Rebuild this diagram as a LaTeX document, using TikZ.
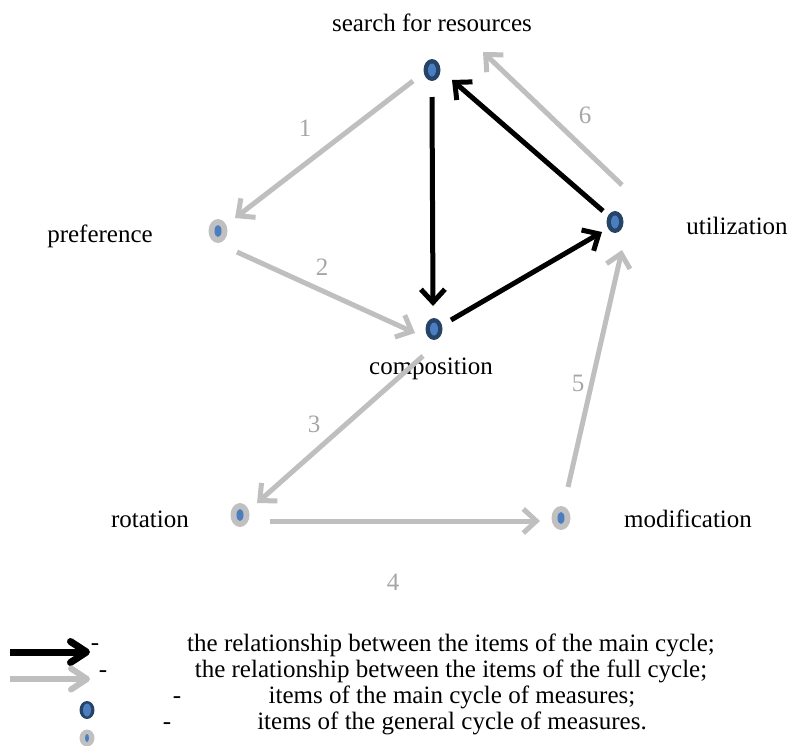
\documentclass[tikz,border=0pt]{standalone}
\usepackage{fontspec}
\setmainfont{Liberation Serif}
\usepackage{tikz}
\usetikzlibrary{shapes.geometric,arrows.meta}

\definecolor{dotdark}{HTML}{254468}
\definecolor{dotblue}{HTML}{4A7EC0}
\definecolor{dotgray}{HTML}{C0C0C0}
\definecolor{linkgray}{HTML}{BFBFBF}
\definecolor{numgray}{HTML}{A6A6A6}

\begin{document}
\begin{tikzpicture}[x=1pt,y=-1pt,
  every node/.style={font=\fontsize{25}{30}\selectfont},
  maindot/.style={ellipse,fill=dotdark,minimum width=17pt,minimum height=22pt,inner sep=0pt,
    path picture={\fill[dotblue] (path picture bounding box.center) ellipse (4pt and 6.5pt);}},
  fulldot/.style={ellipse,fill=dotgray,minimum width=19pt,minimum height=24pt,inner sep=0pt,
    path picture={\fill[dotblue] (path picture bounding box.center) ellipse (3.5pt and 6pt);}},
  mainlink/.style={black,line width=5pt,-{Straight Barb[length=13pt,width=24pt]}},
  fulllink/.style={linkgray,line width=5pt,-{Straight Barb[length=13pt,width=24pt]}},
  label/.style={anchor=base},
  num/.style={text=numgray,anchor=base}]
\useasboundingbox (0,0) rectangle (793,745);

% Items of the cycle
\node[maindot] (search) at (432,70) {};
\node[fulldot] (pref) at (218,231) {};
\node[maindot] (comp) at (434,329) {};
\node[maindot] (util) at (615,222) {};
\node[fulldot] (rot) at (240,515) {};
\node[fulldot] (modif) at (561,518) {};

\node[label] (searchtxt) at (432,31) {search for resources};
\node[label] (preftxt) at (100,242) {preference};
\node[label] (utiltxt) at (737,234) {utilization};
\node[label] (comptxt) at (431,374) {composition};
\node[label] (rottxt) at (150,527) {rotation};
\node[label] (modiftxt) at (688,527) {modification};

% Main cycle
\draw[mainlink] ([yshift=-27pt]search.center) -- ([shift={(-1pt,23pt)}]comp.center);
\draw[mainlink] ([shift={(17pt,9pt)}]comp.center) -- ([shift={(-13pt,-10pt)}]util.center);
\draw[mainlink] ([shift={(-12pt,11pt)}]util.center) -- ([shift={(20pt,-10pt)}]search.center);

% Full cycle
\draw[fulllink] ([shift={(-19pt,-11pt)}]search.center) -- ([shift={(17pt,13pt)}]pref.center);
\draw[fulllink] ([shift={(19pt,-21pt)}]pref.center) -- ([shift={(-19pt,-4pt)}]comp.center);
\draw[fulllink] ([shift={(-11pt,-27pt)}]comp.center) -- ([shift={(17pt,12pt)}]rot.center);
\draw[fulllink] ([shift={(30pt,-6pt)}]rot.center) -- ([shift={(-21pt,-3pt)}]modif.center);
\draw[fulllink] ([shift={(7pt,31pt)}]modif.center) -- ([shift={(7pt,-28pt)}]util.center);
\draw[fulllink] ([shift={(7pt,37pt)}]util.center) -- ([shift={(51pt,18pt)}]search.center);

\node[num] (n1) at (305,136) {1};
\node[num] (n2) at (322,275) {2};
\node[num] (n3) at (314,432) {3};
\node[num] (n4) at (393,590) {4};
\node[num] (n5) at (578,391) {5};
\node[num] (n6) at (585,123) {6};

% Legend
\coordinate (keymainA) at (10,652);
\coordinate (keymainB) at (90,652);
\coordinate (keyfullA) at (10,679);
\coordinate (keyfullB) at (90,679);
\draw[black,line width=7pt,-{Straight Barb[length=16pt,width=21pt,round]}] (keymainA) -- (keymainB);
\draw[linkgray,line width=6pt,-{Straight Barb[length=16pt,width=21pt,round]}] (keyfullA) -- (keyfullB);
\node[maindot,minimum width=15pt,minimum height=18pt] (keymaindot) at (87,710) {};
\node[fulldot,minimum width=15pt,minimum height=17pt,
  path picture={\fill[dotblue] (path picture bounding box.center) ellipse (2pt and 4pt);}] (keyfulldot) at (87,738) {};

\node[label] (dash1) at (95,650) {-};
\node[label] (dash2) at (103,677) {-};
\node[label] (dash3) at (177,703) {-};
\node[label] (dash4) at (167,729) {-};
\node[label] (key1) at (451,651) {the relationship between the items of the main cycle;};
\node[label] (key2) at (451,677) {the relationship between the items of the full cycle;};
\node[label] (key3) at (452,703) {items of the main cycle of measures;};
\node[label] (key4) at (452,729) {items of the general cycle of measures.};
\end{tikzpicture}
\end{document}
